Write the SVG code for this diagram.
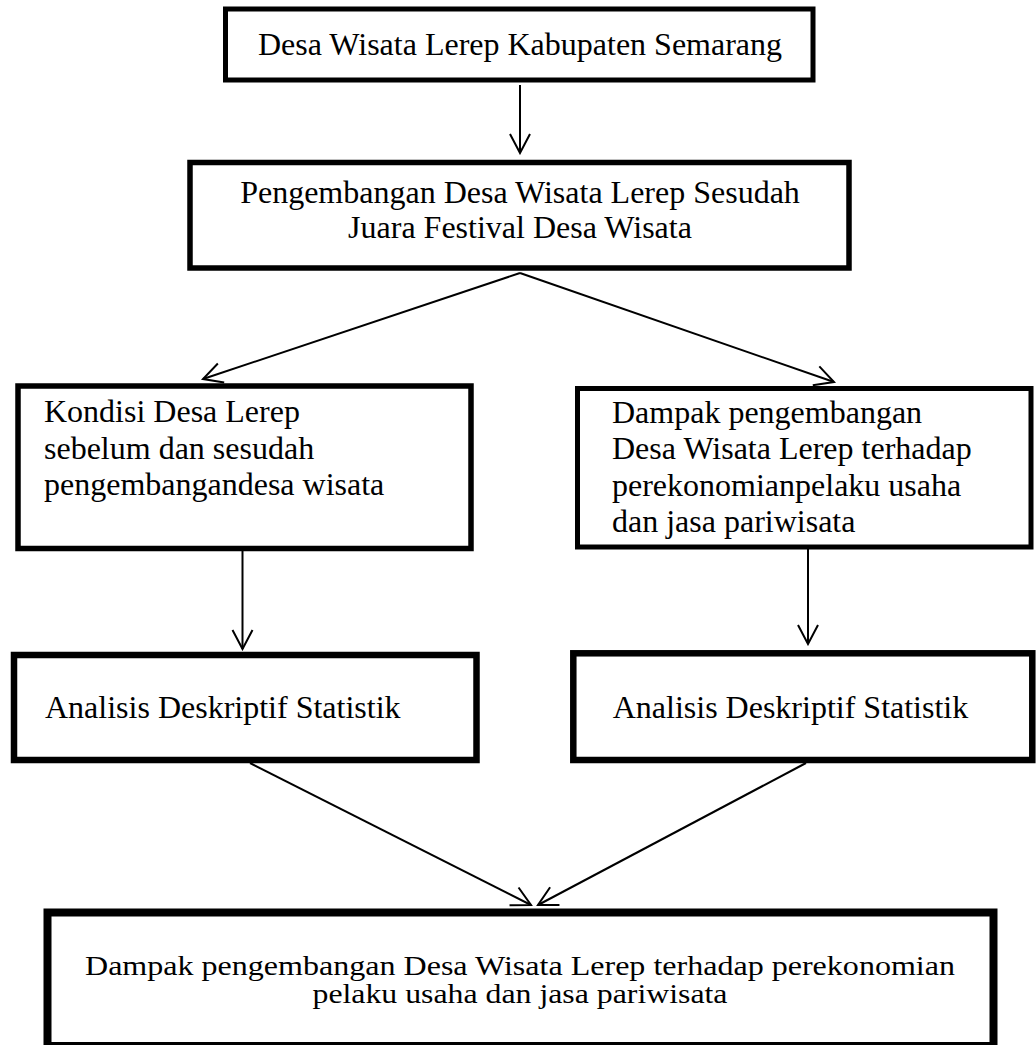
<svg xmlns="http://www.w3.org/2000/svg" width="1036" height="1045" viewBox="0 0 1036 1045">
<style>
  .box { fill: #ffffff; stroke: #000000; }
  .t { font-family: "Liberation Serif", "Times New Roman", serif; font-size: 32px; fill: #000000; }
  .c { text-anchor: middle; }
  .n { font-size: 26.5px; }
  .edge { stroke: #000000; stroke-width: 2; fill: none; marker-end: url(#arr); }
</style>
<defs>
  <marker id="arr" markerUnits="userSpaceOnUse" viewBox="-22 -12 24 24" markerWidth="24" markerHeight="24" refX="0" refY="0" orient="auto">
    <path d="M-19,-10 L0,0 L-19,10" fill="none" stroke="#000000" stroke-width="2"/>
  </marker>
</defs>
<rect width="1036" height="1045" fill="#ffffff"/>

<g id="connectors">
  <line class="edge" x1="520" y1="85" x2="520" y2="153"/>
  <line class="edge" x1="520" y1="273" x2="203" y2="379"/>
  <line class="edge" x1="520" y1="273" x2="834" y2="382"/>
  <line class="edge" x1="242.5" y1="551" x2="242.5" y2="649"/>
  <line class="edge" x1="808" y1="549" x2="808" y2="644"/>
  <line class="edge" x1="250" y1="763" x2="531" y2="905"/>
  <line class="edge" x1="806" y1="763" x2="538" y2="905"/>
</g>

<g id="node-desa-wisata">
  <rect class="box" x="225.5" y="9" width="587.5" height="71" stroke-width="5"/>
  <text class="t c" x="520" y="55">Desa Wisata Lerep Kabupaten Semarang</text>
</g>

<g id="node-pengembangan">
  <rect class="box" x="190" y="162.5" width="659" height="105.5" stroke-width="5.5"/>
  <text class="t c" x="520" y="203">Pengembangan Desa Wisata Lerep Sesudah</text>
  <text class="t c" x="520" y="238">Juara Festival Desa Wisata</text>
</g>

<g id="node-kondisi">
  <rect class="box" x="18" y="386" width="453" height="162.5" stroke-width="5.5"/>
  <text class="t" x="44" y="422">Kondisi Desa Lerep</text>
  <text class="t" x="44" y="458.5">sebelum dan sesudah</text>
  <text class="t" x="44" y="495">pengembangandesa wisata</text>
</g>

<g id="node-dampak-kanan">
  <rect class="box" x="577.5" y="388.5" width="453.5" height="158.5" stroke-width="5"/>
  <text class="t" x="612" y="423">Dampak pengembangan</text>
  <text class="t" x="612" y="459">Desa Wisata Lerep terhadap</text>
  <text class="t" x="612" y="495.5">perekonomianpelaku usaha</text>
  <text class="t" x="612" y="532">dan jasa pariwisata</text>
</g>

<g id="node-analisis-kiri">
  <rect class="box" x="14" y="655" width="462.5" height="105" stroke-width="6.5"/>
  <text class="t" x="45" y="718">Analisis Deskriptif Statistik</text>
</g>

<g id="node-analisis-kanan">
  <rect class="box" x="573.3" y="653.3" width="459" height="106.7" stroke-width="6.5"/>
  <text class="t" x="612.7" y="718">Analisis Deskriptif Statistik</text>
</g>

<g id="node-dampak-akhir">
  <rect class="box" x="47.5" y="912.5" width="946" height="133.5" stroke-width="8"/>
  <text class="t n c" x="520" y="975" textLength="870" lengthAdjust="spacingAndGlyphs">Dampak pengembangan Desa Wisata Lerep terhadap perekonomian</text>
  <text class="t n c" x="520" y="1002.5" textLength="415" lengthAdjust="spacingAndGlyphs">pelaku usaha dan jasa pariwisata</text>
</g>
</svg>
